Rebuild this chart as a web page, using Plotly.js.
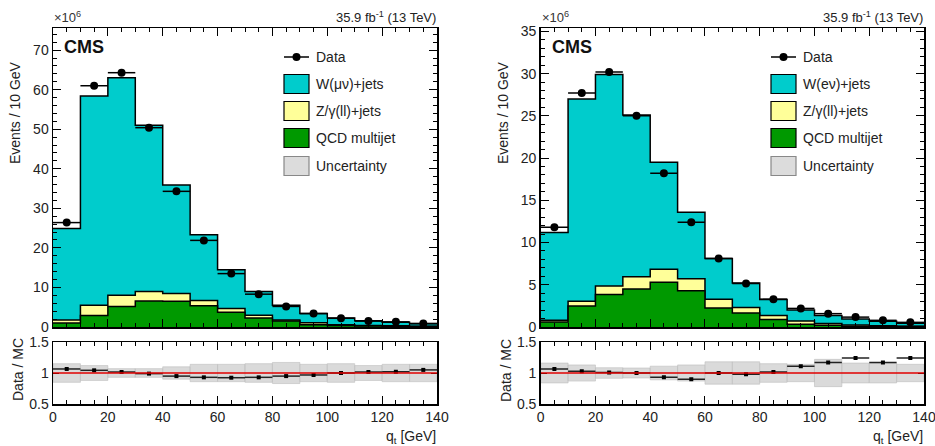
<!DOCTYPE html>
<html>
<head>
<meta charset="utf-8">
<script src="https://cdn.plot.ly/plotly-3.0.1.min.js"></script>
<style>html,body{margin:0;padding:0;background:#fff}#plot{width:935px;height:446px}</style>
</head>
<body>
<div id="plot"></div>
<script>
// Bin edges in q_t [GeV]
const edges = [0,10,20,30,40,50,60,70,80,90,100,110,120,130,140];
const centers = edges.slice(0,-1).map((e)=>e+5);

// Left: muon channel (x10^6 events / 10 GeV)
const muData = [26.4, 61.0, 64.3, 50.4, 34.3, 21.9, 13.5, 8.3, 5.2, 3.4, 2.2, 1.5, 1.3, 0.9];
const muW    = [23.1, 52.9, 55.0, 42.0, 27.4, 16.6, 9.8, 6.0, 3.7, 2.3, 1.7, 1.2, 0.9, 0.6];
const muZ    = [0.8, 2.6, 2.8, 2.4, 2.0, 1.3, 1.0, 0.7, 0.3, 0.5, 0.2, 0.15, 0.15, 0.1];
const muQCD  = [1.0, 2.9, 5.2, 6.6, 6.5, 5.4, 3.7, 2.3, 1.5, 0.6, 0.4, 0.25, 0.15, 0.1];
const muRatio = [1.065, 1.043, 1.016, 0.99, 0.95, 0.93, 0.924, 0.93, 0.95, 0.968, 1.0, 1.016, 1.02, 1.05];
const muUnc   = [0.15, 0.12, 0.07, 0.07, 0.10, 0.14, 0.14, 0.15, 0.17, 0.14, 0.15, 0.12, 0.14, 0.14];

// Right: electron channel
const elData = [11.8, 27.7, 30.2, 25.0, 18.2, 12.4, 8.1, 5.15, 3.3, 2.2, 1.58, 1.17, 0.79, 0.55];
const elW    = [10.4, 23.95, 25.05, 19.15, 12.65, 7.9, 4.8, 2.9, 1.9, 1.3, 0.95, 0.7, 0.53, 0.35];
const elZ    = [0.2, 0.55, 1.0, 1.45, 1.55, 1.4, 1.05, 0.64, 0.45, 0.38, 0.2, 0.15, 0.08, 0.05];
const elQCD  = [0.6, 2.5, 3.85, 4.5, 5.3, 4.3, 2.25, 1.66, 0.9, 0.32, 0.2, 0.1, 0.07, 0.05];
const elRatio = [1.065, 1.027, 1.01, 1.0, 0.93, 0.90, 1.0, 0.98, 1.016, 1.108, 1.17, 1.24, 1.17, 1.24];
const elUnc   = [0.16, 0.13, 0.085, 0.08, 0.11, 0.13, 0.18, 0.18, 0.15, 0.14, 0.22, 0.16, 0.16, 0.14];

const FONT = 'Liberation Sans, Arial, Helvetica, sans-serif';
const C_W = '#00cccc', C_Z = '#ffff99', C_Q = '#009900';

function stepTrace(vals, color, xa, ya) {
  return {x: edges, y: vals.concat([vals[vals.length-1]]), type:'scatter', mode:'lines',
    line:{shape:'hv', color:'#000', width:1.5}, fill:'tozeroy', fillcolor:color,
    xaxis:xa, yaxis:ya, hoverinfo:'skip', showlegend:false};
}
function sum(a,b){return a.map((v,i)=>v+b[i]);}

function channelTraces(W,Z,Q,D,R,U,xm,ym,xr,yr){
  const zq = sum(Z,Q), tot = sum(W,zq);
  return [
    stepTrace(tot, C_W, xm, ym),
    stepTrace(zq, C_Z, xm, ym),
    stepTrace(Q, C_Q, xm, ym),
    {x:centers, y:D, type:'scatter', mode:'markers', xaxis:xm, yaxis:ym, showlegend:false,
     marker:{color:'#000', size:8, symbol:'circle'},
     error_x:{type:'constant', value:5, width:0, thickness:1.5, color:'#000'}},
    {x:centers, y:U.map(u=>2*u), base:U.map(u=>1-u), type:'bar', width:10, xaxis:xr, yaxis:yr,
     showlegend:false, marker:{color:'rgba(205,205,205,0.75)', line:{color:'#bdbdbd', width:0.6}}},
    {x:centers, y:R, type:'scatter', mode:'markers', xaxis:xr, yaxis:yr, showlegend:false,
     marker:{color:'#000', size:4, symbol:'square'},
     error_x:{type:'constant', value:5, width:0, thickness:1.5, color:'#222'}}
  ];
}

const data = [].concat(
  channelTraces(muW,muZ,muQCD,muData,muRatio,muUnc,'x','y','x2','y2'),
  channelTraces(elW,elZ,elQCD,elData,elRatio,elUnc,'x3','y3','x4','y4')
);

const xL = [53/935, 437/935], xR = [540.7/935, 924/935];
const yM = [1-327/446, 1-28/446], yRt = [1-404/446, 1-342/446];

function xax(dom, anchor, labels){
  return {domain:dom, anchor:anchor, range:[0,140], dtick:20, tick0:0, ticks:'inside', ticklen:8,
    tickcolor:'#000', tickwidth:1, mirror:'ticks', showline:true, linecolor:'#000', linewidth:1.5,
    showgrid:false, zeroline:false, showticklabels:labels, ticklabeloverflow:'allow',
    tickfont:{family:FONT, size:14, color:'#222'},
    minor:{dtick:5, ticks:'inside', ticklen:4, tickcolor:'#000', showgrid:false}};
}
function yax(dom, anchor, range, dtick, minorD, tl){
  return {domain:dom, anchor:anchor, range:range, dtick:dtick, tick0:0, ticks:'inside', ticklen:tl,
    tickcolor:'#000', tickwidth:1, mirror:'ticks', showline:true, linecolor:'#000', linewidth:1.5,
    showgrid:false, zeroline:false, tickfont:{family:FONT, size:14, color:'#222'},
    minor: minorD ? {dtick:minorD, ticks:'inside', ticklen:4, tickcolor:'#000', showgrid:false} : undefined};
}

const layout = {
  width:935, height:446, margin:{l:0,r:0,t:0,b:0}, paper_bgcolor:'#fff', plot_bgcolor:'#fff',
  showlegend:false, bargap:0, barmode:'overlay', font:{family:FONT, color:'#222'},
  xaxis: xax(xL,'y',false), yaxis: yax(yM,'x',[0,75.6],10,2,8),
  xaxis2: xax(xL,'y2',true), yaxis2: yax(yRt,'x2',[0.5,1.5],0.5,null,6),
  xaxis3: xax(xR,'y3',false), yaxis3: yax(yM,'x3',[0,35.4],5,1,8),
  xaxis4: xax(xR,'y4',true), yaxis4: yax(yRt,'x4',[0.5,1.5],0.5,null,6),
  shapes: [], annotations: []
};

// red unity lines
[['x2','y2'],['x4','y4']].forEach(([xa,ya])=>{
  layout.shapes.push({type:'line', xref:xa, yref:ya, x0:0, x1:140, y0:1, y1:1, line:{color:'#e00000', width:1.5}, layer:'above'});
});

function ann(x,y,text,opts){
  layout.annotations.push(Object.assign({xref:'paper', yref:'paper', x:x/935, y:1-y/446, text:text,
    showarrow:false, font:{family:FONT, size:14, color:'#222'}, xanchor:'center', yanchor:'middle'}, opts||{}));
}

function panelText(x0, x1, offs, wlabel){
  ann(x0-1, 17, '×10<sup>6</sup>', {xanchor:'left', font:{family:FONT, size:13, color:'#333'}});
  ann(x1+1, 17, '35.9 fb<sup>-1</sup> (13 TeV)', {xanchor:'right', font:{family:FONT, size:13, color:'#222'}});
  ann(x0+9, 47, '<b>CMS</b>', {xanchor:'left', font:{family:FONT, size:18, color:'#111'}});
  ann(offs.ytx, 113, 'Events / 10 GeV', {textangle:-90, font:{family:FONT, size:14, color:'#222'}});
  ann(offs.ytx+3, 370, 'Data / MC', {textangle:-90, font:{family:FONT, size:14, color:'#222'}});
  ann(x1+1, 437, 'q<sub>t</sub> [GeV]', {xanchor:'right', font:{family:FONT, size:14, color:'#222'}});
  // legend
  const bx0 = offs.lx, bx1 = offs.lx+25, tx = offs.lx+30;
  const rows = [57, 84, 111, 138, 166];
  layout.shapes.push({type:'line', xref:'paper', yref:'paper', x0:bx0/935, x1:bx1/935, y0:1-rows[0]/446, y1:1-rows[0]/446, line:{color:'#000', width:1.5}});
  layout.shapes.push({type:'circle', xref:'paper', yref:'paper', x0:(bx0+12.5-4)/935, x1:(bx0+12.5+4)/935, y0:1-(rows[0]+4)/446, y1:1-(rows[0]-4)/446, fillcolor:'#000', line:{color:'#000', width:0}});
  const fills = [[C_W,'#000'],[C_Z,'#000'],[C_Q,'#000'],['#dcdcdc','#888']];
  fills.forEach((f,i)=>{
    const r = rows[i+1];
    layout.shapes.push({type:'rect', xref:'paper', yref:'paper', x0:bx0/935, x1:bx1/935, y0:1-(r+9.5)/446, y1:1-(r-9.5)/446, fillcolor:f[0], line:{color:f[1], width:1.2}});
  });
  const labels = ['Data', wlabel, 'Z/γ(ll)+jets', 'QCD multijet', 'Uncertainty'];
  labels.forEach((t,i)=> ann(tx, rows[i], t, {xanchor:'left'}));
}
panelText(53, 437, {ytx:15, lx:284}, 'W(μν)+jets');
panelText(540.7, 924, {ytx:503, lx:771}, 'W(eν)+jets');

Plotly.newPlot('plot', data, layout, {staticPlot:true, displayModeBar:false});
</script>
</body>
</html>
